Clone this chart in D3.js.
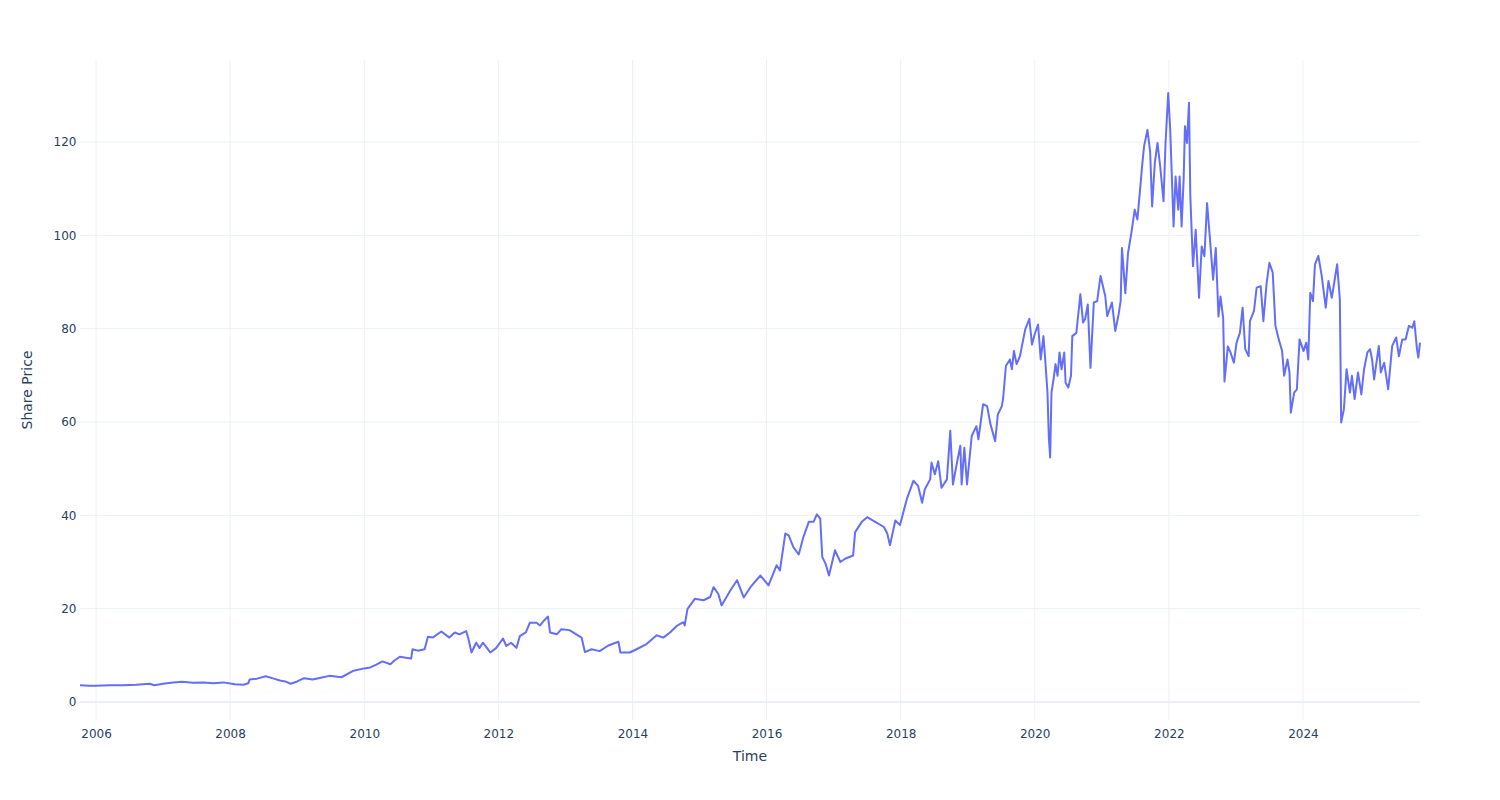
<!DOCTYPE html>
<html>
<head>
<meta charset="utf-8">
<script src="https://cdn.jsdelivr.net/npm/d3@7"></script>
<style>
  html, body { margin: 0; padding: 0; background: #fff; }
  svg { display: block; font-family: "DejaVu Sans", verdana, arial, sans-serif; }
</style>
</head>
<body>
<svg id="chart" width="1500" height="800"></svg>
<script>
// Time as decimal years
const years = [
  2005.76, 2005.9, 2006.0, 2006.2, 2006.4, 2006.6, 2006.8, 2006.87, 2007.0, 2007.15,
  2007.28, 2007.45, 2007.6, 2007.75, 2007.9, 2008.07, 2008.2, 2008.27, 2008.29, 2008.4,
  2008.53, 2008.65, 2008.74, 2008.82, 2008.9, 2009.0, 2009.1, 2009.23, 2009.35, 2009.48,
  2009.66, 2009.84, 2010.0, 2010.09, 2010.18, 2010.27, 2010.39, 2010.45, 2010.53, 2010.62,
  2010.7, 2010.72, 2010.8, 2010.9, 2010.95, 2011.02, 2011.15, 2011.27, 2011.35, 2011.42,
  2011.52, 2011.55, 2011.6, 2011.67, 2011.72, 2011.77, 2011.83, 2011.88, 2011.97, 2012.07,
  2012.12, 2012.19, 2012.27, 2012.32, 2012.41, 2012.47, 2012.57, 2012.62, 2012.69, 2012.74,
  2012.77, 2012.87, 2012.94, 2013.06, 2013.16, 2013.24, 2013.29, 2013.39, 2013.51, 2013.64,
  2013.79, 2013.82, 2013.96, 2014.06, 2014.21, 2014.36, 2014.46, 2014.56, 2014.66, 2014.76,
  2014.78, 2014.82, 2014.93, 2015.06, 2015.16, 2015.21, 2015.28, 2015.33, 2015.46, 2015.56,
  2015.66, 2015.76, 2015.91, 2016.03, 2016.15, 2016.2, 2016.28, 2016.33, 2016.4, 2016.48,
  2016.55, 2016.63, 2016.7, 2016.75, 2016.8, 2016.83, 2016.88, 2016.93, 2017.02, 2017.1,
  2017.17, 2017.29, 2017.32, 2017.42, 2017.5, 2017.62, 2017.75, 2017.8, 2017.84, 2017.92,
  2017.99, 2018.09, 2018.19, 2018.26, 2018.32, 2018.36, 2018.44, 2018.46, 2018.51, 2018.56,
  2018.61, 2018.69, 2018.74, 2018.78, 2018.84, 2018.89, 2018.91, 2018.95, 2018.99, 2019.06,
  2019.13, 2019.16, 2019.23, 2019.29, 2019.34, 2019.41, 2019.45, 2019.51, 2019.53, 2019.57,
  2019.63, 2019.66, 2019.69, 2019.73, 2019.78, 2019.81, 2019.86, 2019.92, 2019.96, 2020.0,
  2020.05, 2020.09, 2020.13, 2020.16, 2020.19, 2020.21, 2020.23, 2020.25, 2020.28, 2020.31,
  2020.34, 2020.37, 2020.4, 2020.44, 2020.46, 2020.5, 2020.54, 2020.56, 2020.62, 2020.68,
  2020.72, 2020.75, 2020.79, 2020.83, 2020.88, 2020.93, 2020.98, 2021.05, 2021.08, 2021.15,
  2021.2, 2021.25, 2021.28, 2021.3, 2021.35, 2021.39, 2021.44, 2021.49, 2021.53, 2021.57,
  2021.6, 2021.63, 2021.68, 2021.72, 2021.75, 2021.79, 2021.83, 2021.87, 2021.92, 2021.95,
  2021.99, 2022.02, 2022.07, 2022.1, 2022.14, 2022.16, 2022.19, 2022.22, 2022.24, 2022.27,
  2022.3, 2022.32, 2022.36, 2022.4, 2022.45, 2022.49, 2022.53, 2022.57, 2022.61, 2022.66,
  2022.7, 2022.74, 2022.77, 2022.81, 2022.83, 2022.88, 2022.92, 2022.97, 2023.01, 2023.06,
  2023.1, 2023.14, 2023.19, 2023.21, 2023.27, 2023.31, 2023.37, 2023.41, 2023.46, 2023.5,
  2023.55, 2023.59, 2023.64, 2023.69, 2023.72, 2023.77, 2023.8, 2023.82, 2023.87, 2023.91,
  2023.95, 2024.01, 2024.05, 2024.08, 2024.11, 2024.15, 2024.18, 2024.23, 2024.28, 2024.34,
  2024.38, 2024.43, 2024.51, 2024.55, 2024.57, 2024.61, 2024.65, 2024.7, 2024.73, 2024.77,
  2024.82, 2024.87, 2024.91, 2024.96, 2025.0, 2025.03, 2025.06, 2025.13, 2025.16, 2025.21,
  2025.27, 2025.33, 2025.39, 2025.43, 2025.48, 2025.53, 2025.58, 2025.63, 2025.66, 2025.7,
  2025.72, 2025.745
];
// Share price
const prices = [
  3.6, 3.5, 3.5, 3.6, 3.6, 3.7, 3.9, 3.6, 3.9, 4.2,
  4.35, 4.1, 4.2, 4.0, 4.2, 3.8, 3.7, 4.0, 4.8, 5.0,
  5.5, 5.0, 4.6, 4.4, 3.9, 4.4, 5.1, 4.8, 5.2, 5.6,
  5.3, 6.7, 7.2, 7.4, 8.0, 8.7, 8.1, 8.9, 9.7, 9.5,
  9.3, 11.3, 11.0, 11.3, 14.0, 13.8, 15.1, 13.8, 14.9, 14.5,
  15.2, 13.8, 10.6, 12.7, 11.6, 12.7, 11.6, 10.6, 11.6, 13.6,
  12.0, 12.7, 11.6, 14.1, 14.9, 17.0, 17.0, 16.4, 17.6, 18.3,
  14.9, 14.5, 15.6, 15.4, 14.5, 13.8, 10.7, 11.3, 10.9, 12.1,
  12.9, 10.6, 10.6, 11.3, 12.4, 14.3, 13.8, 14.9, 16.3, 17.1,
  16.4, 19.9, 22.1, 21.8, 22.5, 24.6, 23.2, 20.7, 23.9, 26.1,
  22.4, 24.6, 27.1, 25.0, 29.3, 28.2, 36.1, 35.7, 33.2, 31.6,
  35.4, 38.6, 38.6, 40.2, 39.3, 31.1, 29.6, 27.1, 32.5, 30.0,
  30.7, 31.4, 36.4, 38.6, 39.6, 38.6, 37.5, 36.1, 33.6, 38.9,
  37.9, 43.4, 47.4, 46.3, 42.7, 45.6, 47.7, 51.3, 48.8, 51.6,
  45.9, 47.7, 58.1, 46.6, 51.3, 54.9, 46.6, 54.5, 46.6, 57.0,
  59.1, 56.3, 63.8, 63.4, 59.5, 55.9, 61.6, 63.4, 65.2, 72.0,
  73.4, 71.3, 75.2, 72.4, 74.1, 76.3, 79.9, 82.1, 76.6, 78.8,
  80.9, 73.4, 78.4, 72.7, 66.3, 56.9, 52.4, 66.3, 69.1, 72.4,
  69.9, 74.9, 71.3, 74.9, 68.4, 67.4, 69.9, 78.4, 79.1, 87.4,
  81.3, 82.0, 85.2, 71.6, 85.6, 85.9, 91.3, 87.0, 82.7, 85.6,
  79.5, 83.1, 85.9, 97.3, 87.6, 96.2, 100.5, 105.5, 103.4, 109.8,
  114.8, 119.1, 122.6, 118.0, 106.2, 115.5, 119.8, 114.8, 107.3, 119.8,
  130.5, 122.6, 101.9, 112.6, 105.5, 112.6, 101.9, 111.9, 123.4, 119.8,
  128.4, 108.4, 93.4, 101.2, 86.6, 97.6, 95.5, 106.9, 99.8, 90.5,
  97.3, 82.6, 86.9, 82.3, 68.7, 76.2, 74.9, 72.7, 77.0, 79.1,
  84.5, 75.6, 74.1, 81.6, 83.8, 88.8, 89.1, 81.6, 89.9, 94.1,
  92.0, 80.6, 77.7, 75.2, 69.9, 73.4, 70.6, 62.0, 66.3, 67.0,
  77.7, 75.2, 77.0, 73.4, 87.7, 85.9, 93.8, 95.6, 91.3, 84.5,
  90.2, 86.6, 93.8, 86.3, 59.9, 62.7, 71.3, 66.3, 69.9, 64.9,
  70.6, 65.9, 71.3, 74.9, 75.6, 73.4, 69.1, 76.3, 70.6, 72.7,
  67.0, 76.3, 78.1, 74.1, 77.7, 77.7, 80.6, 80.2, 81.6, 75.6,
  73.8, 77.0
];
const xTickYears = [2006, 2008, 2010, 2012, 2014, 2016, 2018, 2020, 2022, 2024];
const yTicks = [0, 20, 40, 60, 80, 100, 120];
const yRange = [-3.86, 137.57];
const xTitle = "Time";
const yTitle = "Share Price";

function toDate(y) {
  const yr = Math.floor(y);
  const start = Date.UTC(yr, 0, 1), end = Date.UTC(yr + 1, 0, 1);
  return new Date(start + (y - yr) * (end - start));
}
const data = years.map((y, i) => ({ date: toDate(y), value: prices[i] }));

const W = 1500, H = 800;
const m = { l: 80, r: 80, t: 60, b: 80 };
const svg = d3.select("#chart");
const FONT = '"DejaVu Sans", verdana, arial, sans-serif';

const x = d3.scaleUtc()
  .domain(d3.extent(data, d => d.date))
  .range([m.l, W - m.r]);
const y = d3.scaleLinear().domain(yRange).range([H - m.b, m.t]);

const gridColor = "#EBF0F8";
const textColor = "#2a3f5f";

// vertical grid
svg.append("g").selectAll("line").data(xTickYears).join("line")
  .attr("x1", d => x(toDate(d))).attr("x2", d => x(toDate(d)))
  .attr("y1", m.t).attr("y2", H - m.b)
  .attr("stroke", gridColor).attr("stroke-width", 1);
// horizontal grid
svg.append("g").selectAll("line").data(yTicks.filter(d => d !== 0)).join("line")
  .attr("x1", m.l).attr("x2", W - m.r)
  .attr("y1", d => y(d)).attr("y2", d => y(d))
  .attr("stroke", gridColor).attr("stroke-width", 1);
// zero line
svg.append("line")
  .attr("x1", m.l).attr("x2", W - m.r)
  .attr("y1", y(0)).attr("y2", y(0))
  .attr("stroke", gridColor).attr("stroke-width", 2);

// x tick labels
const xAxis = d3.axisBottom(x)
  .tickValues(xTickYears.map(toDate))
  .tickFormat(d3.utcFormat("%Y"))
  .tickSize(0).tickPadding(8);
const gx = svg.append("g").attr("transform", `translate(0,${H - m.b + 1})`).call(xAxis);
gx.select(".domain").remove();
gx.selectAll("text").attr("fill", textColor).attr("font-size", 12).attr("font-family", FONT);

// y tick labels
const yAxis = d3.axisLeft(y).tickValues(yTicks).tickSize(0).tickPadding(3);
const gy = svg.append("g").attr("transform", `translate(${m.l - 0.5},0)`).call(yAxis);
gy.select(".domain").remove();
gy.selectAll("text").attr("fill", textColor).attr("font-size", 12).attr("font-family", FONT);

// line
const line = d3.line().x(d => x(d.date)).y(d => y(d.value));
svg.append("path").datum(data)
  .attr("d", line)
  .attr("fill", "none")
  .attr("stroke", "#636efa")
  .attr("stroke-width", 2)
  .attr("stroke-linejoin", "round");

// axis titles
svg.append("text").attr("x", (m.l + W - m.r) / 2).attr("y", 761)
  .attr("text-anchor", "middle").attr("fill", textColor).attr("font-size", 14)
  .attr("font-family", FONT).text(xTitle);
svg.append("text")
  .attr("transform", `translate(32,${(m.t + H - m.b) / 2}) rotate(-90)`)
  .attr("text-anchor", "middle").attr("fill", textColor).attr("font-size", 14)
  .attr("font-family", FONT).text(yTitle);
</script>
</body>
</html>
